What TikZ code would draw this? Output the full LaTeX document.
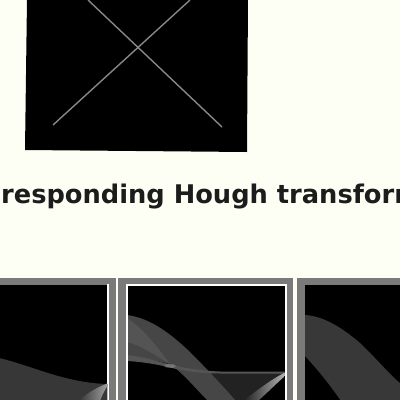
\documentclass[tikz,border=0pt]{standalone}
\usepackage{fontspec}
\newfontfamily\capfont{DejaVu Sans}
\definecolor{bg}{RGB}{254,255,244}
\definecolor{framegray}{RGB}{122,122,122}
\definecolor{xline}{RGB}{135,135,135}
\definecolor{txt}{RGB}{28,28,28}
\definecolor{bandone}{RGB}{55,55,55}
\definecolor{bandA}{RGB}{70,70,70}
\definecolor{bandB}{RGB}{85,85,85}
\definecolor{darktwo}{RGB}{34,34,34}
\definecolor{bandthree}{RGB}{56,56,56}
\tikzset{
  xstroke/.style={draw=xline, line width=1.4pt},
  captext/.style={anchor=base west, inner sep=0pt, text=txt,
    font=\capfont\bfseries\fontsize{25.7}{31}\selectfont},
}
\begin{document}
\begin{tikzpicture}[x=1pt,y=-1pt]
\fill[bg] (0,0) rectangle (400,400);
\useasboundingbox (0,0) rectangle (400,400);
% top image
\fill[black] (27,-1) -- (248,-1) -- (247,152) -- (25,150) -- cycle;
\coordinate (la) at (53,125);
\coordinate (lb) at (190,0);
\coordinate (lc) at (88,0);
\coordinate (ld) at (222,127);
\draw[xstroke] (la) -- (lb);
\draw[xstroke] (lc) -- (ld);
% caption
\node[captext] (cap) at (1,203) {responding Hough transform};
% panel 1
\fill[framegray] (-1,278) rectangle (116,401);
\fill[black] (-1,284.5) rectangle (107.3,401);
\fill[white] (107.3,283.5) rectangle (109.3,401);
\begin{scope}
\clip (-1,284.5) rectangle (107.3,401);
\fill[bandone] (-1,358) .. controls (30,365) and (65,383) .. (107.3,384) -- (107.3,401) -- (-1,401) -- cycle;
\shade[left color=gray!40!black, right color=gray!75] (107.3,383.5) .. controls (95,388) and (85,395) .. (78,401) -- (100,401) .. controls (102,395) and (105,390) .. (107.3,386) -- cycle;
\end{scope}
% panel 2
\fill[framegray] (118,278) rectangle (292.5,401);
\fill[white] (126,283.5) rectangle (287,401);
\fill[black] (128,285.5) rectangle (284.5,401);
\begin{scope}
\clip (128,285.5) rectangle (284.5,401);
\fill[darktwo] (172,366) .. controls (190,370) and (200,372) .. (215,372) -- (285,372) -- (285,375) .. controls (270,385) and (258,393) .. (250,401) -- (230,401) -- cycle;
\fill[bandA] (127,315) .. controls (150,318) and (170,333) .. (190,352) .. controls (205,367) and (222,385) .. (236,401) -- (208,401) .. controls (195,388) and (185,375) .. (170,364) .. controls (155,360) and (140,358) .. (127,357) -- cycle;
\fill[white, opacity=0.08] (127,318) .. controls (145,330) and (158,348) .. (170,364) .. controls (155,355) and (140,345) .. (127,342) -- cycle;
\fill[bandB] (127,355) .. controls (145,357) and (160,362) .. (172,365) .. controls (190,369) and (205,371) .. (220,371.5) -- (285,371.5) -- (285,373.5) -- (220,373.5) .. controls (200,373.5) and (185,371) .. (172,368) .. controls (160,365) and (145,362) .. (127,361) -- cycle;
\fill[white, opacity=0.2] (170,366) ellipse (6 and 2);
\shade[left color=gray!25!black, right color=gray!60] (285,372.5) .. controls (270,380) and (255,392) .. (243,401) -- (258,401) .. controls (268,392) and (278,382) .. (285,376) -- cycle;
\end{scope}
% panel 3
\fill[framegray] (297,278) rectangle (401,401);
\fill[black] (305,285) rectangle (401,401);
\begin{scope}
\clip (305,285) rectangle (401,401);
\fill[bandthree] (305,315) .. controls (325,316) and (345,330) .. (360,343) .. controls (375,357) and (390,375) .. (401,384) -- (401,401) -- (341,401) .. controls (330,385) and (318,370) .. (305,356) -- cycle;
\end{scope}
\end{tikzpicture}
\end{document}
